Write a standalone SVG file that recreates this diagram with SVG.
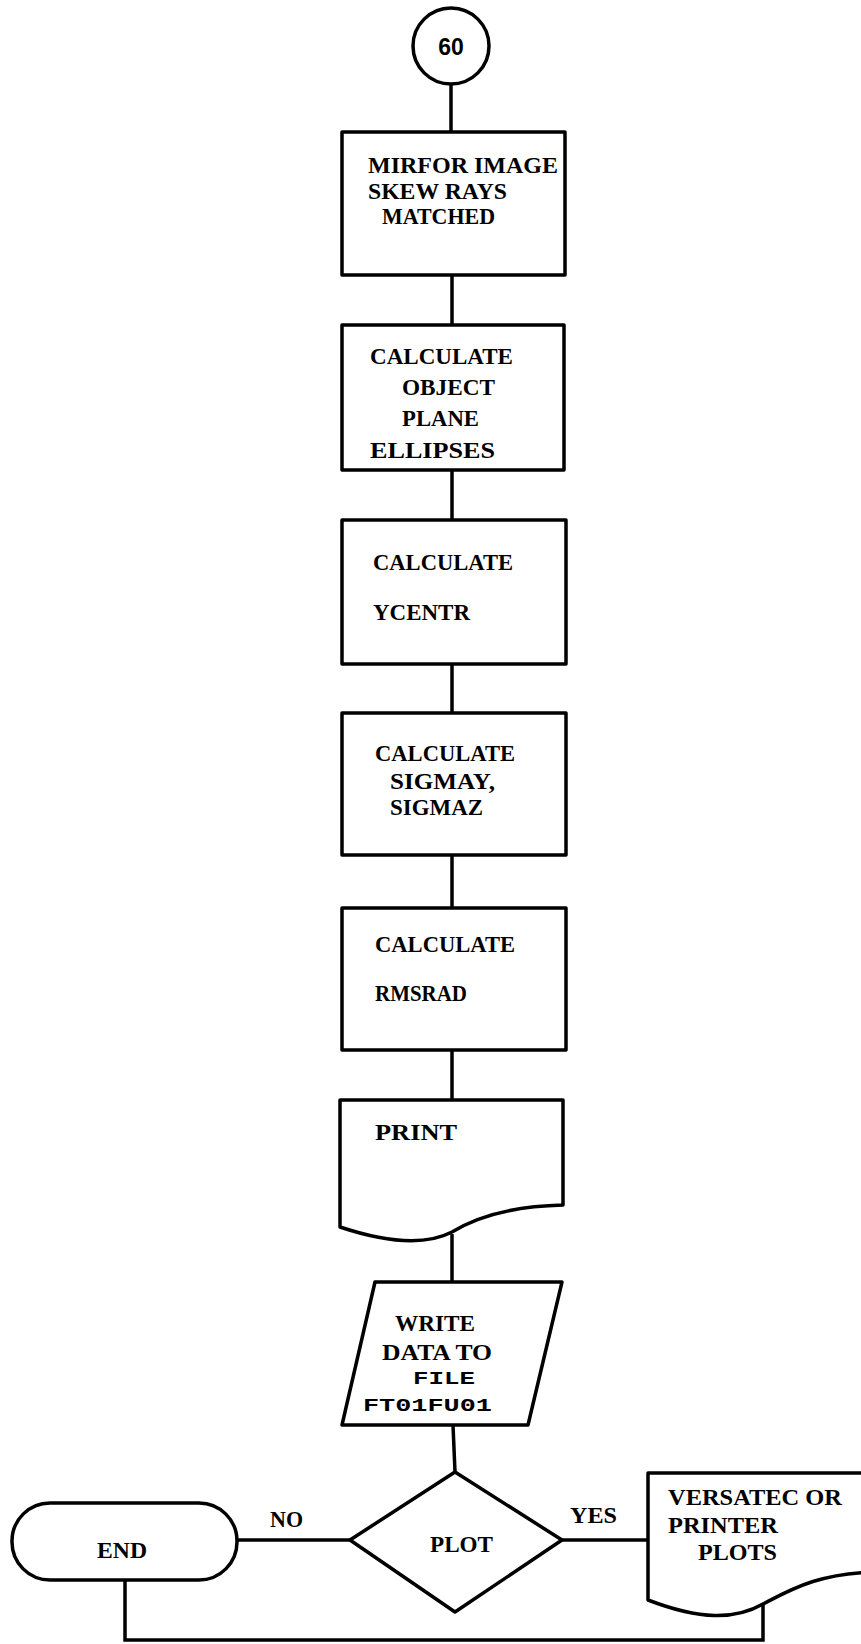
<svg xmlns="http://www.w3.org/2000/svg" width="861" height="1644" viewBox="0 0 861 1644">
<style>
.s{fill:#fff;stroke:#000;stroke-width:3.5;stroke-linejoin:round}
.c{fill:none;stroke:#000;stroke-width:3.5}
.t{font-family:"Liberation Serif",serif;font-weight:bold;font-size:23px;fill:#000}
.m{font-family:"Liberation Mono",monospace;font-weight:bold;font-size:19px;fill:#000}
.n{font-family:"Liberation Sans",sans-serif;font-weight:bold;font-size:23px;fill:#000}
</style>
<rect width="861" height="1644" fill="#fff"/>
<g id="connectors">
<line class="c" x1="451" y1="84" x2="451" y2="132"/>
<line class="c" x1="452" y1="275" x2="452" y2="325"/>
<line class="c" x1="452" y1="470" x2="452" y2="520"/>
<line class="c" x1="452" y1="664" x2="452" y2="713"/>
<line class="c" x1="452" y1="855" x2="452" y2="908"/>
<line class="c" x1="452" y1="1050" x2="452" y2="1100"/>
<line class="c" x1="452" y1="1234" x2="452" y2="1282"/>
<line class="c" x1="453" y1="1425" x2="455" y2="1472"/>
<line class="c" x1="237" y1="1540" x2="350" y2="1540"/>
<line class="c" x1="562" y1="1540" x2="648" y2="1540"/>
<polyline class="c" points="125,1580 125,1640 763,1640 763,1602"/>
<text class="t" x="270" y="1527" textLength="33" lengthAdjust="spacingAndGlyphs">NO</text>
<text class="t" x="570" y="1523" textLength="47" lengthAdjust="spacingAndGlyphs">YES</text>
</g>
<g id="n60">
<circle class="s" cx="451" cy="46" r="38"/>
<text class="n" x="451" y="55" text-anchor="middle">60</text>
</g>
<g id="mirror">
<rect class="s" x="342" y="132" width="223" height="143"/>
<text class="t" x="368" y="173" textLength="190" lengthAdjust="spacingAndGlyphs">MIRFOR IMAGE</text>
<text class="t" x="368" y="199" textLength="139" lengthAdjust="spacingAndGlyphs">SKEW RAYS</text>
<text class="t" x="382" y="224" textLength="113" lengthAdjust="spacingAndGlyphs">MATCHED</text>
</g>
<g id="ellipses">
<rect class="s" x="342" y="325" width="222" height="145"/>
<text class="t" x="370" y="364" textLength="143" lengthAdjust="spacingAndGlyphs">CALCULATE</text>
<text class="t" x="402" y="395" textLength="93" lengthAdjust="spacingAndGlyphs">OBJECT</text>
<text class="t" x="402" y="426" textLength="77" lengthAdjust="spacingAndGlyphs">PLANE</text>
<text class="t" x="370" y="458" textLength="125" lengthAdjust="spacingAndGlyphs">ELLIPSES</text>
</g>
<g id="ycentr">
<rect class="s" x="342" y="520" width="224" height="144"/>
<text class="t" x="373" y="570" textLength="140" lengthAdjust="spacingAndGlyphs">CALCULATE</text>
<text class="t" x="373" y="620" textLength="97" lengthAdjust="spacingAndGlyphs">YCENTR</text>
</g>
<g id="sigma">
<rect class="s" x="342" y="713" width="224" height="142"/>
<text class="t" x="375" y="761" textLength="140" lengthAdjust="spacingAndGlyphs">CALCULATE</text>
<text class="t" x="390" y="789" textLength="105" lengthAdjust="spacingAndGlyphs">SIGMAY,</text>
<text class="t" x="390" y="815" textLength="93" lengthAdjust="spacingAndGlyphs">SIGMAZ</text>
</g>
<g id="rmsrad">
<rect class="s" x="342" y="908" width="224" height="142"/>
<text class="t" x="375" y="952" textLength="140" lengthAdjust="spacingAndGlyphs">CALCULATE</text>
<text class="t" x="375" y="1001" textLength="92" lengthAdjust="spacingAndGlyphs">RMSRAD</text>
</g>
<g id="print">
<path class="s" d="M340,1100 H563 V1205 C520,1206 480,1215 452,1232 C425,1246 385,1242 340,1227 Z"/>
<text class="t" x="375" y="1140" textLength="82" lengthAdjust="spacingAndGlyphs">PRINT</text>
</g>
<g id="write">
<polygon class="s" points="375,1282 562,1282 528,1425 342,1425"/>
<text class="t" x="395" y="1331" textLength="80" lengthAdjust="spacingAndGlyphs">WRITE</text>
<text class="t" x="382" y="1360" textLength="110" lengthAdjust="spacingAndGlyphs">DATA TO</text>
<text class="m" x="413" y="1384" textLength="62" lengthAdjust="spacingAndGlyphs">FILE</text>
<text class="m" x="363" y="1411" textLength="129" lengthAdjust="spacingAndGlyphs">FT01FU01</text>
</g>
<g id="plot">
<polygon class="s" points="455,1472 562,1540 455,1612 350,1540"/>
<text class="t" x="430" y="1552" textLength="63" lengthAdjust="spacingAndGlyphs">PLOT</text>
</g>
<g id="end">
<rect class="s" x="12" y="1503" width="225" height="77" rx="38" ry="38"/>
<text class="t" x="97" y="1558" textLength="50" lengthAdjust="spacingAndGlyphs">END</text>
</g>
<g id="plots">
<path class="s" d="M648,1473 H880 V1572 C820,1572 790,1590 763,1604 C735,1620 700,1620 648,1600 Z"/>
<text class="t" x="668" y="1505" textLength="174" lengthAdjust="spacingAndGlyphs">VERSATEC OR</text>
<text class="t" x="668" y="1533" textLength="110" lengthAdjust="spacingAndGlyphs">PRINTER</text>
<text class="t" x="698" y="1560" textLength="79" lengthAdjust="spacingAndGlyphs">PLOTS</text>
</g>
</svg>
